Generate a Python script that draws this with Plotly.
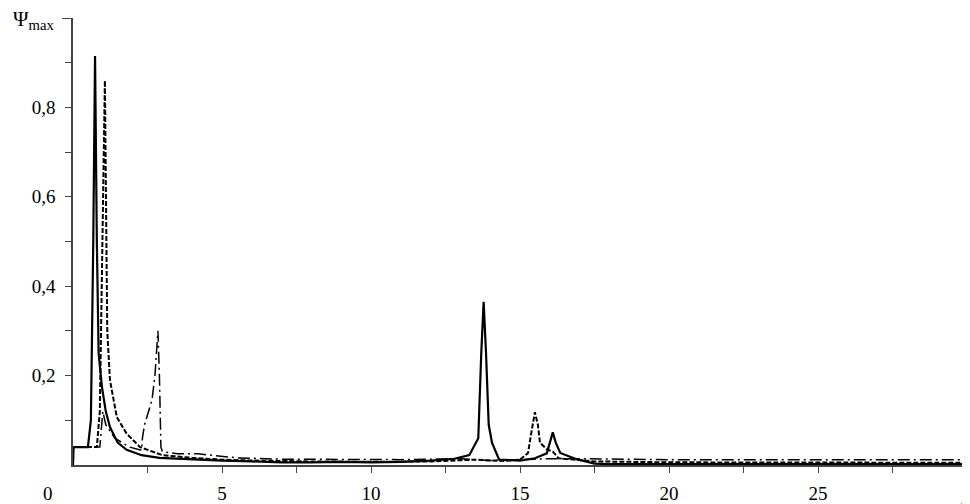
import plotly.graph_objects as go

# Solid series
x_solid = [0, 0.02, 0.5, 0.6, 0.68, 0.74, 0.8, 0.86, 0.97, 1.1, 1.24, 1.5, 1.8, 2.3, 2.9, 4, 5, 6, 7, 8, 9, 10, 11, 12,
           12.8, 13.3, 13.6, 13.7, 13.78, 13.86, 13.95, 14.06, 14.3, 15, 15.5, 15.9, 16.0, 16.1, 16.2, 16.35, 16.9,
           17.5, 18, 20, 22, 24, 26, 28, 30]
y_solid = [0, 0.04, 0.04, 0.1, 0.5, 0.915, 0.5, 0.25, 0.175, 0.12, 0.085, 0.05, 0.034, 0.022, 0.016, 0.012, 0.01,
           0.008, 0.006, 0.006, 0.007, 0.006, 0.007, 0.01, 0.014, 0.022, 0.06, 0.25, 0.365, 0.25, 0.09, 0.05, 0.012,
           0.01, 0.015, 0.026, 0.05, 0.073, 0.05, 0.027, 0.013, 0.003, 0.002, 0.002, 0.002, 0.002, 0.002, 0.002, 0.002]

# Dashed series
x_dash = [0, 0.8, 0.9, 1.0, 1.07, 1.12, 1.15, 1.24, 1.47, 1.8, 2.25, 3, 4, 5, 6, 8, 10, 12, 13, 13.5, 14, 14.5, 15,
          15.27, 15.4, 15.5, 15.6, 15.67, 15.9, 16.1, 16.3, 16.8, 17.5, 20, 25, 30]
y_dash = [0.04, 0.04, 0.12, 0.5, 0.86, 0.5, 0.3, 0.19, 0.107, 0.07, 0.04, 0.022, 0.016, 0.012, 0.01, 0.008, 0.007,
          0.008, 0.01, 0.012, 0.01, 0.009, 0.012, 0.027, 0.08, 0.118, 0.09, 0.05, 0.035, 0.03, 0.015, 0.012, 0.008,
          0.006, 0.005, 0.005]

# Dash-dot series
x_dashdot = [0, 0.9, 1.0, 1.1, 1.4, 1.9, 2.3, 2.33, 2.4, 2.65, 2.75, 2.85, 2.9, 2.92, 2.95, 3.0, 3.5, 4.2, 5.5, 7,
             9, 11, 13, 14, 15, 16, 17, 18, 20, 22, 24, 26, 28, 30]
y_dashdot = [0.04, 0.04, 0.12, 0.09, 0.06, 0.04, 0.033, 0.06, 0.09, 0.145, 0.2, 0.3, 0.2, 0.1, 0.04, 0.03, 0.025,
             0.025, 0.016, 0.013, 0.012, 0.012, 0.014, 0.01, 0.012, 0.014, 0.014, 0.013, 0.012, 0.012, 0.012, 0.012,
             0.012, 0.012]

x_tickvals = [2.5, 5, 7.5, 10, 12.5, 15, 17.5, 20, 22.5, 25, 27.5, 30]
x_ticktext = ["", "5", "", "10", "", "15", "", "20", "", "25", "", "<i>p</i>"]
y_tickvals = [0.1, 0.2, 0.3, 0.4, 0.5, 0.6, 0.7, 0.8, 0.9, 1.0]
y_ticktext = ["", "0,2", "", "0,4", "", "0,6", "", "0,8", "", ""]

FONT = "Liberation Serif, Times New Roman, serif"
AX = "#444444"

fig = go.Figure()
fig.add_trace(go.Scatter(x=x_dashdot, y=y_dashdot, mode="lines",
                         line=dict(color="black", width=1.5, dash="12px,4px,2px,4px")))
fig.add_trace(go.Scatter(x=x_dash, y=y_dash, mode="lines",
                         line=dict(color="black", width=2, dash="5px,2px")))
fig.add_trace(go.Scatter(x=x_solid, y=y_solid, mode="lines",
                         line=dict(color="black", width=2.2)))
# invisible trace to activate second y axis (long top tick)
fig.add_trace(go.Scatter(x=[0], y=[0], mode="lines", yaxis="y2", line=dict(width=0), hoverinfo="skip"))

# page body has an 8px margin, so the figure is sized 962x496 and offset accordingly
fig.update_layout(
    width=962, height=496,
    margin=dict(l=65, r=3, t=10, b=39, autoexpand=False),
    paper_bgcolor="white", plot_bgcolor="white",
    showlegend=False,
    font=dict(family=FONT, size=19, color="black"),
    xaxis=dict(range=[0, 30], showgrid=False, zeroline=False, showline=True, linecolor=AX, linewidth=1.5,
               ticks="outside", ticklen=6, tickcolor=AX, tickwidth=1.2, automargin=False,
               tickfont=dict(family=FONT, size=19, color="black"), ticklabeloverflow="allow",
               tickvals=x_tickvals, ticktext=x_ticktext, ticklabelstandoff=4),
    yaxis=dict(range=[0, 1.0], showgrid=False, zeroline=False, showline=True, linecolor=AX, linewidth=1.5,
               ticks="outside", ticklen=6, tickcolor=AX, tickwidth=1.2, automargin=False,
               tickfont=dict(family=FONT, size=19, color="black"),
               tickvals=y_tickvals, ticktext=y_ticktext, ticklabelstandoff=6),
    yaxis2=dict(range=[0, 1.0], overlaying="y", side="left", showgrid=False, zeroline=False, showline=False,
                ticks="outside", ticklen=10, tickcolor=AX, tickwidth=1.2, tickvals=[1.0], ticktext=[""],
                automargin=False),
)

fig.add_annotation(text="Ψ<sub>max</sub>", xref="paper", yref="paper", x=-0.019, y=0.995,
                   xanchor="right", yanchor="middle", showarrow=False, font=dict(family=FONT, size=21))
fig.add_annotation(text="0", xref="paper", yref="paper", x=-0.028, y=-0.063,
                   xanchor="center", yanchor="middle", showarrow=False, font=dict(family=FONT, size=19))

fig.write_html("out.html")
